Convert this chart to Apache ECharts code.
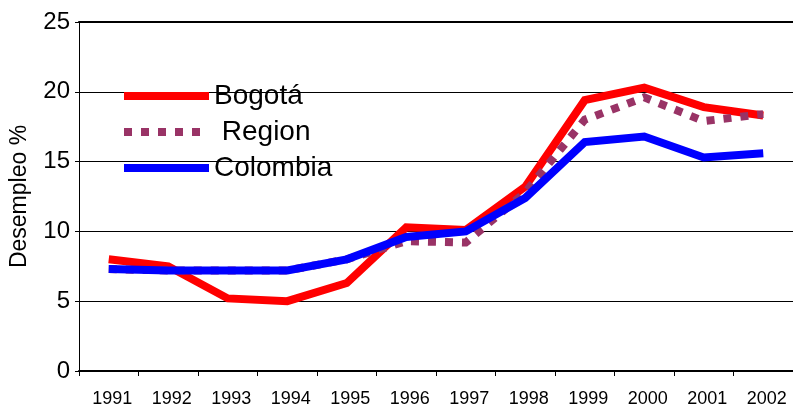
<!DOCTYPE html>
<html>
<head>
<meta charset="utf-8">
<script src="https://cdn.jsdelivr.net/npm/echarts@6/dist/echarts.min.js"></script>
<style>html,body{margin:0;padding:0;background:#fff}#c{width:793px;height:408px}</style>
</head>
<body>
<div id="c"></div>
<script>
const years = ['1991','1992','1993','1994','1995','1996','1997','1998','1999','2000','2001','2002'];
const bogota = [8.0, 7.5, 5.2, 5.0, 6.3, 10.3, 10.1, 13.2, 19.4, 20.3, 18.9, 18.3];
const region = [7.3, 7.2, 7.2, 7.2, 8.0, 9.3, 9.2, 12.8, 18.0, 19.6, 17.9, 18.4];
const colombia = [7.3, 7.2, 7.2, 7.2, 8.0, 9.6, 10.0, 12.4, 16.4, 16.8, 15.3, 15.6];
const yTicks = {min: 0, max: 25, interval: 5};
const seriesNames = ['Bogotá', ' Region', 'Colombia'];

const font = '"Liberation Sans", Arial, sans-serif';
const chart = echarts.init(document.getElementById('c'), null, {renderer: 'canvas'});
chart.setOption({
  animation: false,
  backgroundColor: '#fff',
  textStyle: {fontFamily: font, color: '#000'},
  grid: {left: 79, top: 22, width: 725, height: 349, containLabel: false},
  legend: {
    orient: 'vertical', left: 115, top: 77,
    itemWidth: 85, itemHeight: 8, itemGap: 8,
    itemStyle: {opacity: 0},
    lineStyle: {width: 8, cap: 'butt'},
    textStyle: {fontFamily: font, fontSize: 28, color: '#000', lineHeight: 28},
    data: seriesNames
  },
  xAxis: [{
    type: 'category', data: years, boundaryGap: true,
    axisLine: {lineStyle: {color: '#000', width: 2}},
    axisTick: {show: true, length: 5, lineStyle: {color: '#000', width: 1}},
    axisLabel: {fontFamily: font, fontSize: 18, color: '#000', margin: 19, interval: 0, padding: [0, 0, 0, 7]},
    splitLine: {show: false}
  }, {
    type: 'category', data: years, position: 'top',
    axisLine: {lineStyle: {color: '#000', width: 2}},
    axisTick: {show: false}, axisLabel: {show: false}
  }],
  yAxis: {
    type: 'value', min: yTicks.min, max: yTicks.max, interval: yTicks.interval,
    name: 'Desempleo %', nameLocation: 'middle', nameGap: 48, nameRotate: 90,
    nameTextStyle: {fontFamily: font, fontSize: 23, color: '#000'},
    axisLine: {show: true, lineStyle: {color: '#000', width: 1}},
    axisTick: {show: true, length: 4, lineStyle: {color: '#000'}},
    axisLabel: {fontFamily: font, fontSize: 24, color: '#000', margin: 9},
    splitLine: {show: true, lineStyle: {color: '#000', width: 1}}
  },
  series: [
    {name: seriesNames[0], type: 'line', data: bogota, symbol: 'none', z: 3,
     lineStyle: {color: '#ff0000', width: 8, cap: 'butt', join: 'miter'}, itemStyle: {color: '#ff0000'}},
    {name: seriesNames[1], type: 'line', data: region, symbol: 'none', z: 4,
     lineStyle: {color: '#993366', width: 8, type: [8, 9], cap: 'butt', join: 'miter'}, itemStyle: {color: '#993366'}},
    {name: seriesNames[2], type: 'line', data: colombia, symbol: 'none', z: 5,
     lineStyle: {color: '#0000ff', width: 8, cap: 'butt', join: 'miter'}, itemStyle: {color: '#0000ff'}}
  ]
});
</script>
</body>
</html>
